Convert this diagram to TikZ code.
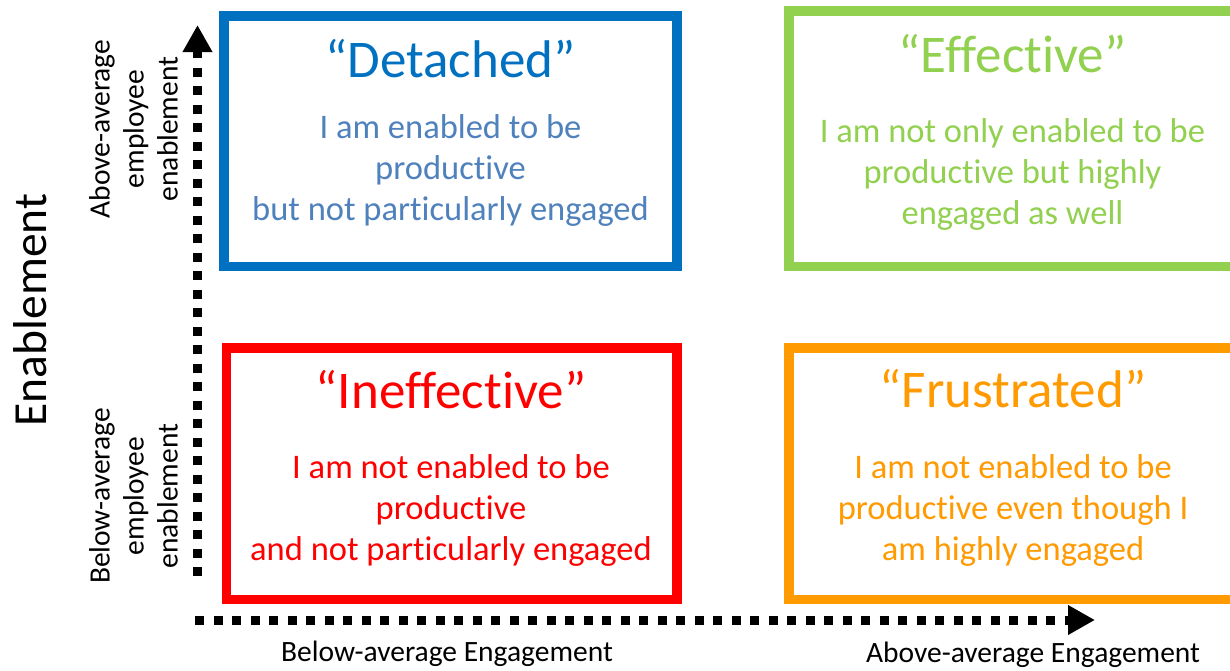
\documentclass[tikz,border=0pt]{standalone}
\usepackage{fontspec}
\setmainfont{Carlito}[Ligatures={NoCommon,NoContextual,NoRare},RawFeature={-clig;-calt}]
\usetikzlibrary{arrows.meta}

\definecolor{detblue}{HTML}{0070C0}
\definecolor{detbody}{HTML}{4F81BD}
\definecolor{effgreen}{HTML}{92D050}
\definecolor{inefred}{HTML}{FF0000}
\definecolor{frusorange}{HTML}{FF9A00}

\begin{document}
\begin{tikzpicture}[x=1pt,y=-1pt,
  quad/.style={draw, line width=9.5pt, rectangle, inner sep=0pt, outer sep=0pt},
  title/.style={anchor=base, font=\fontsize{53}{60}\selectfont},
  % multi-line nodes: the base anchor sits on the last line
  body/.style={anchor=base, align=center, font=\fontsize{34.5}{41}\selectfont},
  axislabel/.style={anchor=base, font=\fontsize{29.5}{34}\selectfont},
  sidelabel/.style={rotate=90, align=center, font=\fontsize{29.5}{34}\selectfont},
  axisline/.style={line width=9pt, line cap=butt, dash pattern=on 9pt off 9.5pt,
    -{Triangle[length=27pt,width=28pt]}}]

\clip (0,0) rectangle (1230,670);
\fill[white] (0,0) rectangle (1230,670);

% quadrant frames
\node[quad, draw=detblue,   minimum width=452.9pt, minimum height=250.5pt] (detached)    at (450.5,141)  {};
\node[quad, draw=effgreen,  minimum width=446.5pt, minimum height=255.5pt] (effective)   at (1012,138.5) {};
\node[quad, draw=inefred,   minimum width=450.5pt, minimum height=251.5pt] (ineffective) at (451.7,473.5) {};
\node[quad, draw=frusorange,minimum width=446.5pt, minimum height=251.5pt] (frustrated)  at (1012,473.5) {};

% quadrant titles
\node[title, text=detblue]    (tdet) at (450.5,77)  {“Detached”};
\node[title, text=effgreen]   (teff) at (1012.5,72) {“Effective”};
\node[title, text=inefred]    (tine) at (451,408)   {“Ineffective”};
\node[title, text=frusorange] (tfru) at (1013,407)  {“Frustrated”};

% quadrant descriptions
\node[body, text=detbody]    (bdet) at (450.5,220) {I am enabled to be\\productive\\but not particularly engaged};
\node[body, text=effgreen]   (beff) at (1012.5,224) {I am not only enabled to be\\productive but highly\\engaged as well};
\node[body, text=inefred]    (bine) at (451,560)   {I am not enabled to be\\productive\\and not particularly engaged};
\node[body, text=frusorange] (bfru) at (1013,560)  {I am not enabled to be\\productive even though I\\am highly engaged};

% axes
\coordinate (vbot) at (197.5,576);
\coordinate (vtop) at (197.5,25);
\coordinate (hleft) at (195,620);
\coordinate (hright) at (1095,620);
\draw[axisline] (vbot) -- (vtop);
\draw[axisline] (hleft) -- (hright);

% axis labels
\node[rotate=90, anchor=base, font=\fontsize{47.5}{54}\selectfont] (ylab) at (46,310) {Enablement};
\node[sidelabel] (yhigh) at (133.5,129) {Above-average\\employee\\enablement};
\node[sidelabel] (ylow)  at (133.5,496) {Below-average\\employee\\enablement};
\node[axislabel] (xlow)  at (447,661)  {Below-average Engagement};
\node[axislabel] (xhigh) at (1033,662) {Above-average Engagement};

\end{tikzpicture}
\end{document}
